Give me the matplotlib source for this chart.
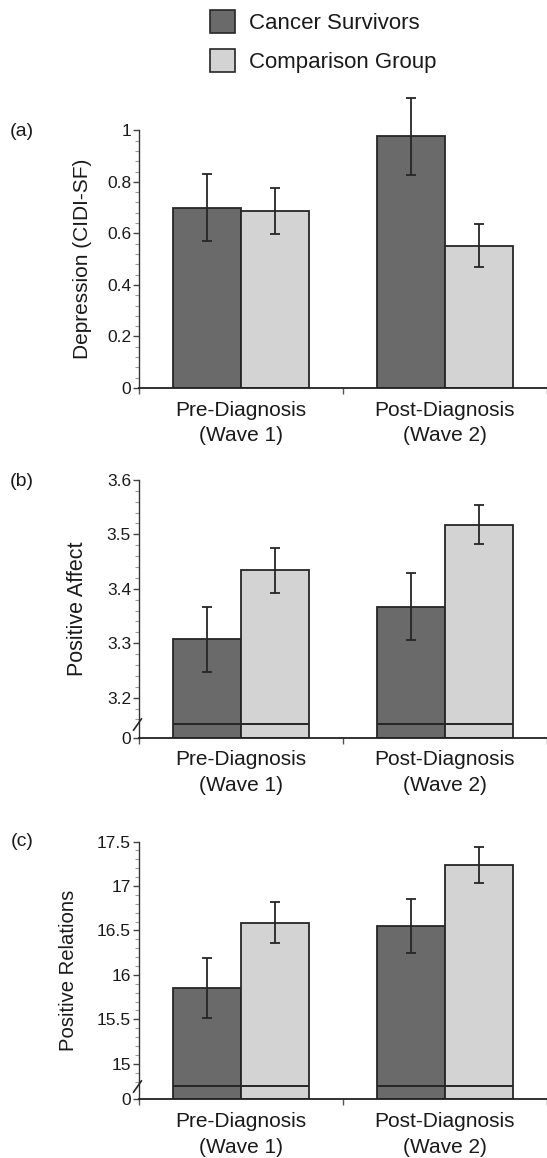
import numpy as np
import matplotlib.pyplot as plt
import matplotlib.transforms as mtransforms
from matplotlib.patches import Patch
from matplotlib.ticker import FixedLocator

plt.rcParams['font.family'] = ['Liberation Sans', 'DejaVu Sans']

groups = ['Pre-Diagnosis\n(Wave 1)', 'Post-Diagnosis\n(Wave 2)']
series = ['Cancer Survivors', 'Comparison Group']

# (a) depression
dep_survivors = [0.70, 0.977]
dep_survivors_err = [0.13, 0.15]
dep_comparison = [0.687, 0.552]
dep_comparison_err = [0.09, 0.083]
dep_ticks = [0, 0.2, 0.4, 0.6, 0.8, 1]

# (b) positive affect
pa_survivors = [3.307, 3.367]
pa_survivors_err = [0.059, 0.062]
pa_comparison = [3.434, 3.518]
pa_comparison_err = [0.041, 0.036]
pa_ticks = [3.2, 3.3, 3.4, 3.5, 3.6]

# (c) positive relations
pr_survivors = [15.854, 16.55]
pr_survivors_err = [0.336, 0.30]
pr_comparison = [16.587, 17.233]
pr_comparison_err = [0.23, 0.205]
pr_ticks = [15, 15.5, 16, 16.5, 17, 17.5]

DARK = '#6a6a6a'
LIGHT = '#d3d3d3'
EDGE = '#262626'
TXT = '#1a1a1a'

fig = plt.figure(figsize=(5.47, 11.58), dpi=100)

# letter, ylabel, values, ticks, base (where "0" sits), break level,
# minor step, axes bottom, ylabel x, ylabel size, letter y (px)
panels = [
    ('(a)', 'Depression (CIDI-SF)', dep_survivors, dep_survivors_err,
     dep_comparison, dep_comparison_err, dep_ticks, 0.0, None, 0.04,
     0.6649, -0.116, 15, 132),
    ('(b)', 'Positive Affect', pa_survivors, pa_survivors_err,
     pa_comparison, pa_comparison_err, pa_ticks, 3.1265, 3.151, 0.02,
     0.3630, -0.124, 15.5, 482),
    ('(c)', 'Positive Relations', pr_survivors, pr_survivors_err,
     pr_comparison, pr_comparison_err, pr_ticks, 14.6, 14.749, 0.1,
     0.0507, -0.149, 14.6, 842),
]

x = np.arange(len(groups)) + 0.5
w = 1 / 3

for (letter, ylab, s_val, s_err, c_val, c_err, ticks, base, brk,
     mstep, bottom, labx, labsize, lety) in panels:
    ax = fig.add_axes([0.2541, bottom, 0.7459, 0.2226])
    s_val = np.array(s_val)
    c_val = np.array(c_val)
    ax.bar(x - w / 2, s_val - base, w, bottom=base, color=DARK,
           edgecolor=EDGE, linewidth=1.3, zorder=2)
    ax.bar(x + w / 2, c_val - base, w, bottom=base, color=LIGHT,
           edgecolor=EDGE, linewidth=1.3, zorder=2)
    for xs, vals, errs in [(x - w / 2, s_val, s_err), (x + w / 2, c_val, c_err)]:
        eb = ax.errorbar(xs, vals, yerr=errs, fmt='none', ecolor=EDGE,
                         elinewidth=1.3, capsize=3.6, capthick=1.3, zorder=3)
        for art in eb.get_children():
            art.set_clip_on(False)

    ax.set_xlim(0, 2)
    ax.set_ylim(base, ticks[-1])

    if brk is not None:
        # break line drawn across the bars
        for xs in [x - w / 2, x + w / 2]:
            ax.hlines([brk] * len(xs), xs - w / 2, xs + w / 2, color=EDGE,
                      lw=1.4, zorder=3)
        trans = mtransforms.blended_transform_factory(ax.transAxes, ax.transData)
        ax.plot([-0.006], [brk], transform=trans, marker=[(-0.7, -1), (0.7, 1)],
                ms=9, mew=1.2, color=EDGE, clip_on=False, zorder=5)
        yt = [base] + list(ticks)
        ylabels = ['0'] + ['%g' % t for t in ticks]
        minors = np.arange(ticks[-1], brk, -mstep)
    else:
        yt = list(ticks)
        ylabels = ['%g' % t for t in ticks]
        minors = np.arange(ticks[-1], base, -mstep)
    ax.set_yticks(yt)
    ax.set_yticklabels(ylabels, fontsize=12.5, color=TXT)
    ax.yaxis.set_minor_locator(FixedLocator(minors))
    ax.tick_params(axis='y', which='major', direction='out', length=4.5,
                   width=1.0, color='#444444', pad=1.2)
    ax.tick_params(axis='y', which='minor', direction='out', length=2.8,
                   width=0.8, color='#9a9a9a')

    ax.set_xticks([0, 1, 2])
    ax.set_xticklabels([])
    ax.set_xticks(x, minor=True)
    ax.set_xticklabels(groups, minor=True, fontsize=15, color=TXT,
                       linespacing=1.45)
    ax.tick_params(axis='x', which='major', direction='out', length=4.5,
                   width=1.0, color='#555555')
    ax.tick_params(axis='x', which='minor', length=0, pad=9)

    for sp in ['top', 'right']:
        ax.spines[sp].set_visible(False)
    ax.spines['left'].set_color('#333333')
    ax.spines['bottom'].set_color('#222222')
    ax.spines['left'].set_linewidth(1.0)
    ax.spines['bottom'].set_linewidth(1.3)

    ax.set_ylabel(ylab, fontsize=labsize, color=TXT)
    ax.yaxis.set_label_coords(labx, 0.5)
    fig.text(22 / 547, 1 - lety / 1158, letter, fontsize=14, color=TXT,
             ha='center', va='center')

handles = [Patch(facecolor=DARK, edgecolor=EDGE, linewidth=1.2),
           Patch(facecolor=LIGHT, edgecolor=EDGE, linewidth=1.2)]
fig.legend(handles, series, loc='upper left',
           bbox_to_anchor=(210 / 547, 1 - 10 / 1158), frameon=False,
           fontsize=16, handlelength=1.14, handleheight=1.2,
           handletextpad=0.63, labelspacing=0.68, borderpad=0,
           borderaxespad=0, labelcolor=TXT)

fig.savefig('out.png', dpi=100)
